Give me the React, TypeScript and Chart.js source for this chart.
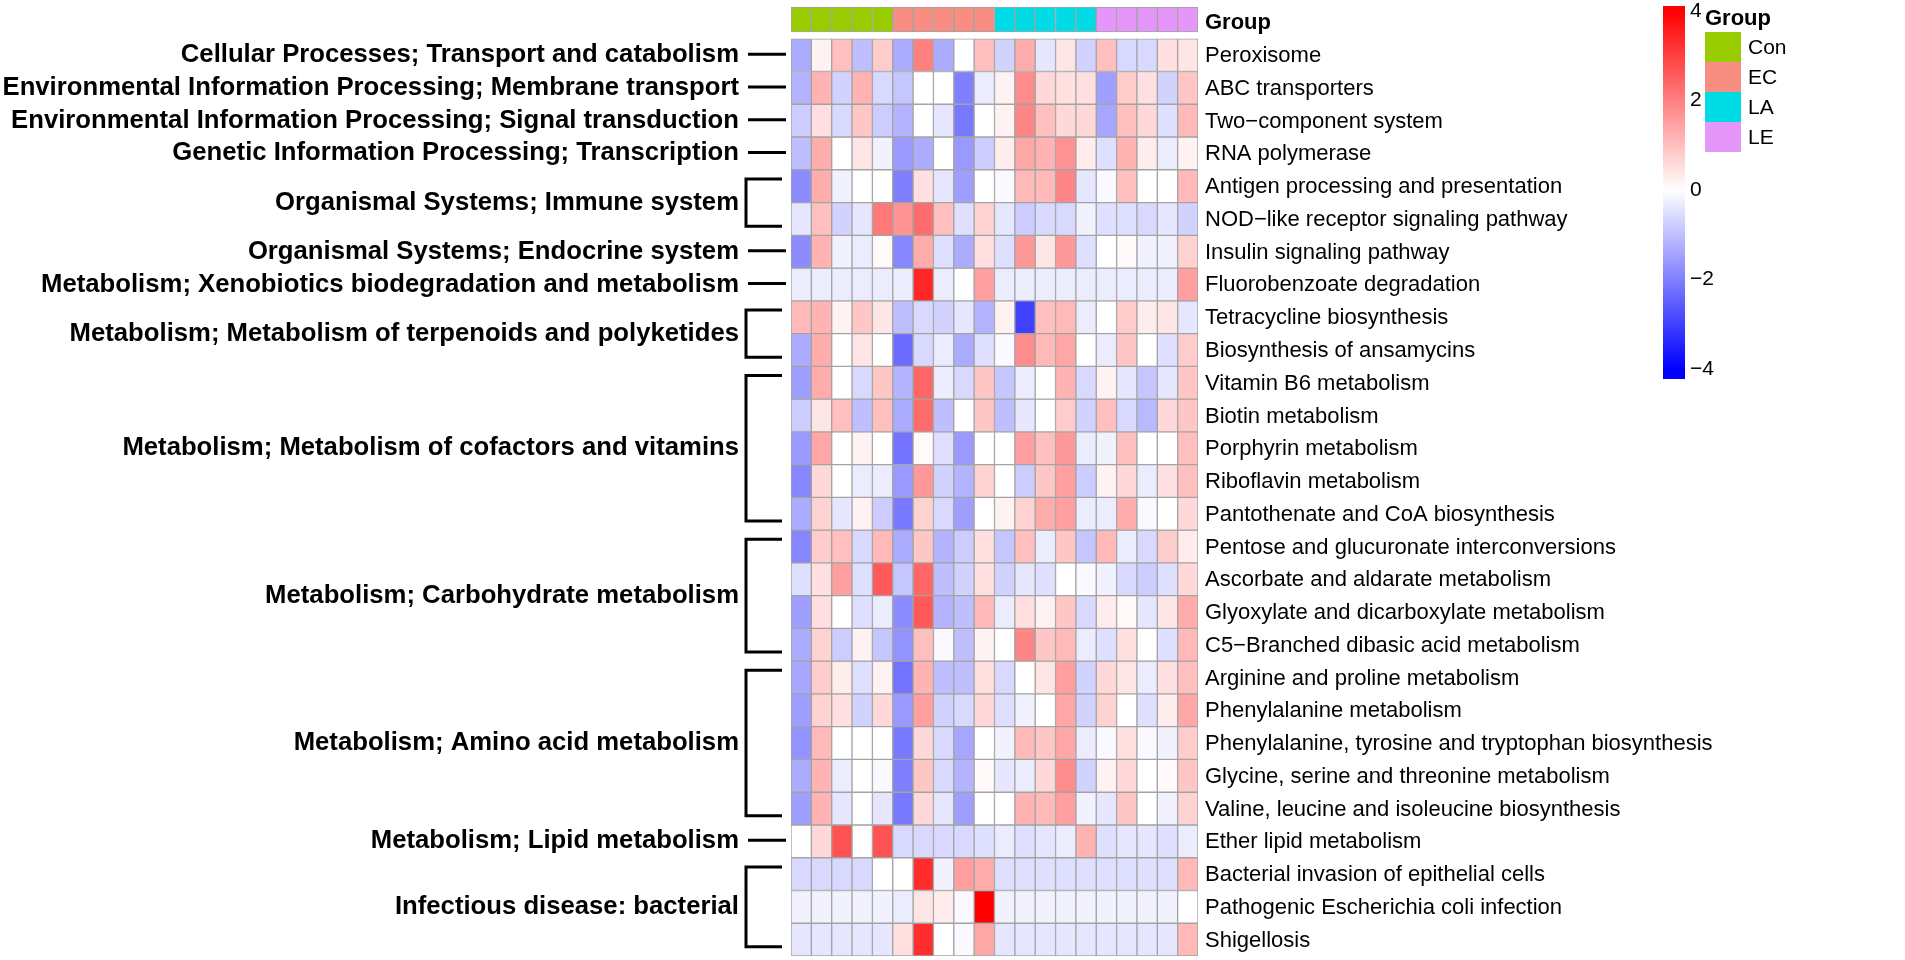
import { useEffect, useRef } from 'react';
import { Chart, registerables } from 'chart.js';

Chart.register(...registerables);

const FONT = "'Liberation Sans', Arial, Helvetica, sans-serif";

const samples = [
  'Con1', 'Con2', 'Con3', 'Con4', 'Con5',
  'EC1', 'EC2', 'EC3', 'EC4', 'EC5',
  'LA1', 'LA2', 'LA3', 'LA4', 'LA5',
  'LE1', 'LE2', 'LE3', 'LE4', 'LE5',
];
const groupNames = ['Con', 'EC', 'LA', 'LE'];
const groupColors = ['#99CC00', '#F88E82', '#00DCE6', '#E497F8'];
const sampleGroup = [0, 0, 0, 0, 0, 1, 1, 1, 1, 1, 2, 2, 2, 2, 2, 3, 3, 3, 3, 3];

const pathways = [
  'Peroxisome',
  'ABC transporters',
  'Two\u2212component system',
  'RNA polymerase',
  'Antigen processing and presentation',
  'NOD\u2212like receptor signaling pathway',
  'Insulin signaling pathway',
  'Fluorobenzoate degradation',
  'Tetracycline biosynthesis',
  'Biosynthesis of ansamycins',
  'Vitamin B6 metabolism',
  'Biotin metabolism',
  'Porphyrin metabolism',
  'Riboflavin metabolism',
  'Pantothenate and CoA biosynthesis',
  'Pentose and glucuronate interconversions',
  'Ascorbate and aldarate metabolism',
  'Glyoxylate and dicarboxylate metabolism',
  'C5\u2212Branched dibasic acid metabolism',
  'Arginine and proline metabolism',
  'Phenylalanine metabolism',
  'Phenylalanine, tyrosine and tryptophan biosynthesis',
  'Glycine, serine and threonine metabolism',
  'Valine, leucine and isoleucine biosynthesis',
  'Ether lipid metabolism',
  'Bacterial invasion of epithelial cells',
  'Pathogenic Escherichia coli infection',
  'Shigellosis',
];

const vPeroxisome = [-1.3, 0.2, 1.0, -1.0, 0.8, -1.3, 2.0, -1.3, 0, 1.0, -0.7, 1.3, -0.4, 0.4, -0.7, 1.0, -0.6, -0.6, 0.5, 0.4];
const vAbc = [-1.2, 1.2, -0.7, 1.2, -0.6, -0.9, 0, 0, -2.0, -0.3, 0.2, 1.8, 0.6, 0.5, 0.5, -1.5, 0.8, 0.5, -0.7, 0.9];
const vTwoComponent = [-0.8, 0.5, -0.6, 0.9, -0.8, -1.2, 0, -0.4, -2.1, 0, 0.2, 1.9, 1.0, 0.6, 0.6, -1.4, 1.0, 0.6, -0.5, 1.1];
const vRnaPol = [-1.0, 1.3, 0, 0.4, -0.2, -1.6, -1.3, 0, -1.6, -0.8, 0.3, 1.4, 1.2, 1.7, 0.3, -0.5, 1.2, 0.3, -0.3, 0.2];
const vAntigen = [-1.8, 1.3, -0.2, 0, 0, -2.0, 0.5, -0.4, -1.5, 0, -0.1, 1.1, 1.1, 1.9, -0.4, -0.1, 1.0, 0, 0, 1.1];
const vNod = [-0.4, 1.0, -0.7, -0.4, 2.1, 1.7, 2.3, 1.0, -0.5, 0.7, -0.4, -0.8, -0.6, -0.6, -0.2, -0.5, -0.5, -0.6, -0.4, -0.7];
const vInsulin = [-1.8, 1.2, -0.2, -0.3, 0.1, -1.9, 1.3, -0.5, -1.3, 0.5, -0.5, 1.6, 0.4, 1.6, -0.5, 0, 0.1, -0.2, -0.2, 0.7];
const vFluoro = [-0.3, -0.3, -0.3, -0.3, -0.3, -0.3, 3.4, -0.3, 0, 1.5, -0.3, -0.3, -0.3, -0.3, -0.3, -0.3, -0.3, -0.3, -0.3, 1.5];
const vTetracycline = [1.1, 1.2, 0.2, 0.9, 0.4, -1.0, -0.6, -0.7, -0.4, -1.2, 0.2, -3.0, 1.0, 1.1, -0.3, 0, 0.8, 0.3, 0.4, -0.4];
const vAnsamycins = [-1.3, 1.3, 0, 0.4, 0, -2.3, -0.6, -0.3, -1.3, -0.5, -0.1, 1.8, 1.1, 1.4, 0, -0.3, 0.9, 0, -0.5, 0.8];
const vVitB6 = [-1.5, 1.3, 0, -0.6, 0.9, -1.2, 2.4, -0.3, -0.6, 0.9, -0.9, -0.3, 0, 1.2, -0.6, 0.2, -0.4, -0.9, -0.4, 0.9];
const vBiotin = [-0.8, 0.4, 1.0, -1.0, 1.0, -1.3, 2.3, -1.0, 0, 0.9, -1.0, -0.4, 0, 0.8, -0.7, 1.0, -0.6, -1.1, 0.6, 0.9];
const vPorphyrin = [-1.6, 1.4, 0, 0.2, 0, -2.2, 0.1, -0.5, -1.6, 0, 0, 1.5, 1.0, 1.6, -0.3, -0.2, 1.0, 0, 0, 1.0];
const vRiboflavin = [-1.9, 0.6, 0, -0.3, -0.3, -1.6, 1.6, -0.7, -1.2, 0.7, 0, -0.8, 0.9, 1.5, -0.8, 0.2, 0.6, -0.3, 0.5, 1.0];
const vPantothenate = [-1.3, 0.7, -0.4, 0.2, -0.8, -2.1, 0.7, -0.6, -1.5, 0, 0.2, 0.7, 1.3, 1.5, -0.3, -0.3, 1.3, -0.1, 0, 0.6];
const vPentose = [-1.9, 0.8, 1.0, -0.6, 1.1, -1.3, 0.9, -1.2, -0.8, 0.5, -0.9, 1.0, -0.3, 0.9, -0.9, 1.1, -0.3, -0.6, 0.8, 0.3];
const vAscorbate = [-0.5, 0.5, 1.5, -0.5, 2.6, -0.9, 2.4, -1.0, -0.7, 0.5, -0.7, -0.4, -0.5, 0, -0.1, -0.2, -0.6, -0.8, -0.5, 0.6];
const vGlyoxylate = [-1.5, 0.5, 0, -0.5, -0.3, -1.8, 2.6, -1.2, -1.0, 1.1, -0.3, 0.5, 0.2, 0.9, -0.6, 0.3, 0.1, -0.4, 0.4, 1.3];
const vC5Branched = [-1.3, 0.7, -0.8, 0.2, -0.9, -1.7, 1.0, -0.1, -1.0, 0.2, 0, 1.9, 0.9, 1.1, -0.3, -0.5, 0.5, 0, -0.5, 1.1];
const vArginine = [-1.4, 0.8, 0.3, -0.5, 0.2, -2.2, 1.2, -1.0, -1.0, 0.5, -0.6, 0, 0.4, 1.5, -0.7, 0.6, 0.4, -0.3, 0.5, 1.0];
const vPhenylalanine = [-1.5, 0.7, 0.5, -0.7, 0.6, -1.6, 1.5, -0.7, -0.6, 0.6, -0.5, -0.2, 0, 1.4, -0.7, 0.7, 0, -0.5, 0.3, 1.4];
const vPheTyrTrp = [-1.7, 1.1, 0, 0, 0, -2.1, 0.6, -0.6, -1.4, 0, -0.2, 1.1, 0.9, 1.4, -0.3, -0.1, 0.5, -0.1, -0.2, 0.8];
const vGlycine = [-1.3, 1.2, -0.3, 0, -0.1, -2.0, 0.9, -0.6, -1.2, 0.1, -0.4, -0.3, 0.6, 1.8, -0.7, 0.2, 0.6, 0, 0.1, 0.9];
const vValine = [-1.5, 1.2, -0.4, 0, -0.4, -2.1, 0.6, -0.4, -1.5, 0, 0, 1.2, 1.1, 1.5, -0.2, -0.4, 0.9, 0, -0.2, 0.7];
const vEtherLipid = [0, 0.6, 2.7, 0, 2.7, -0.6, -0.6, -0.6, -0.6, -0.5, -0.3, -0.5, -0.4, -0.3, 1.2, -0.5, -0.4, -0.4, -0.5, -0.3];
const vBactInvasion = [-0.6, -0.6, -0.6, -0.6, 0, 0, 3.3, -0.2, 1.5, 1.3, -0.5, -0.5, -0.5, -0.5, -0.5, -0.5, -0.5, -0.5, -0.5, 1.1];
const vEcoli = [-0.2, -0.2, -0.2, -0.2, -0.2, -0.3, 0.4, 0.3, -0.1, 4.0, -0.2, -0.2, -0.2, -0.2, -0.2, -0.2, -0.2, -0.2, -0.2, 0];
const vShigellosis = [-0.4, -0.4, -0.4, -0.4, -0.4, 0.5, 3.3, 0, -0.1, 1.4, -0.4, -0.4, -0.4, -0.4, -0.4, -0.4, -0.4, -0.4, -0.4, 1.1];

const matrix = [
  vPeroxisome, vAbc, vTwoComponent, vRnaPol, vAntigen, vNod, vInsulin, vFluoro,
  vTetracycline, vAnsamycins, vVitB6, vBiotin, vPorphyrin, vRiboflavin, vPantothenate,
  vPentose, vAscorbate, vGlyoxylate, vC5Branched, vArginine, vPhenylalanine, vPheTyrTrp,
  vGlycine, vValine, vEtherLipid, vBactInvasion, vEcoli, vShigellosis,
];

const classLabels = [
  'Cellular Processes; Transport and catabolism',
  'Environmental Information Processing; Membrane transport',
  'Environmental Information Processing; Signal transduction',
  'Genetic Information Processing; Transcription',
  'Organismal Systems; Immune system',
  'Organismal Systems; Endocrine system',
  'Metabolism; Xenobiotics biodegradation and metabolism',
  'Metabolism; Metabolism of terpenoids and polyketides',
  'Metabolism; Metabolism of cofactors and vitamins',
  'Metabolism; Carbohydrate metabolism',
  'Metabolism; Amino acid metabolism',
  'Metabolism; Lipid metabolism',
  'Infectious disease: bacterial',
];
const classFirstRow = [0, 1, 2, 3, 4, 6, 7, 8, 10, 15, 19, 24, 25];
const classLastRow = [0, 1, 2, 3, 5, 6, 7, 9, 14, 18, 23, 24, 27];

const legendTicks = [4, 2, 0, -2, -4];
const colorMax = 4;

function valueToColor(v: number): string {
  const t = Math.max(-1, Math.min(1, v / colorMax));
  if (t >= 0) {
    const c = Math.round(255 * (1 - t));
    return `rgb(255,${c},${c})`;
  }
  const c = Math.round(255 * (1 + t));
  return `rgb(${c},${c},255)`;
}

const fmt = (n: number) => (n < 0 ? '\u2212' + Math.abs(n) : String(n));

const annotPlugin = {
  id: 'annotations',
  afterDraw(chart: any) {
    const { ctx, chartArea, scales } = chart;
    const ys = scales.y;
    const left = chartArea.left;
    ctx.save();
    ctx.fillStyle = '#000';
    ctx.strokeStyle = '#000';
    ctx.lineWidth = 3;
    ctx.lineJoin = 'miter';
    ctx.font = `bold 25.7px ${FONT}`;
    ctx.textAlign = 'right';
    ctx.textBaseline = 'middle';
    classLabels.forEach((label, i) => {
      const a = classFirstRow[i];
      const b = classLastRow[i];
      const yMid = ys.getPixelForValue((a + b + 1) / 2) - 1;
      ctx.fillText(label, left - 52, yMid + 1);
      ctx.beginPath();
      if (a === b) {
        ctx.moveTo(left - 43, yMid);
        ctx.lineTo(left - 5, yMid);
      } else {
        const yt = ys.getPixelForValue(a + 0.28);
        const yb = ys.getPixelForValue(b + 0.72);
        ctx.moveTo(left - 9, yt);
        ctx.lineTo(left - 45, yt);
        ctx.lineTo(left - 45, yb);
        ctx.lineTo(left - 9, yb);
      }
      ctx.stroke();
    });

    // colour key
    const cbX = 1663;
    const cbW = 22;
    const vToY = (v: number) => 190 - v * 44.8;
    const top = 6;
    const bottom = 379;
    const grad = ctx.createLinearGradient(0, vToY(colorMax), 0, vToY(-colorMax));
    grad.addColorStop(0, valueToColor(4));
    grad.addColorStop(0.5, valueToColor(0));
    grad.addColorStop(1, valueToColor(-4));
    ctx.fillStyle = grad;
    ctx.fillRect(cbX, top, cbW, bottom - top);
    ctx.fillStyle = '#000';
    ctx.font = `21px ${FONT}`;
    ctx.textAlign = 'left';
    legendTicks.forEach((t) => {
      ctx.fillText(fmt(t), cbX + cbW + 5, vToY(t));
    });

    // group key
    const gx = cbX + cbW + 20;
    ctx.font = `bold 22px ${FONT}`;
    ctx.fillText('Group', gx, 19);
    const boxH = 30;
    const boxW = 36;
    groupNames.forEach((g, i) => {
      const by = 32 + i * boxH;
      ctx.fillStyle = groupColors[i];
      ctx.fillRect(gx, by, boxW, boxH);
      ctx.fillStyle = '#000';
      ctx.font = `21px ${FONT}`;
      ctx.fillText(g, gx + boxW + 7, by + boxH / 2 + 1);
    });
    ctx.restore();
  },
};

export default function App() {
  const canvasRef = useRef<HTMLCanvasElement | null>(null);

  useEffect(() => {
    if (!canvasRef.current) return;
    const groupDataset = {
      label: 'Group',
      data: samples.map(() => [-0.97, -0.21]),
      backgroundColor: samples.map((_, i) => groupColors[sampleGroup[i]]),
      borderColor: '#a3a3a3',
      borderWidth: 1,
      borderSkipped: false,
      grouped: false,
      barPercentage: 1,
      categoryPercentage: 1,
    };
    const rowDatasets = pathways.map((name, r) => ({
      label: name,
      data: samples.map(() => [r, r + 1]),
      backgroundColor: matrix[r].map(valueToColor),
      borderColor: '#a3a3a3',
      borderWidth: 1,
      borderSkipped: false,
      grouped: false,
      barPercentage: 1,
      categoryPercentage: 1,
    }));

    const chart = new Chart(canvasRef.current, {
      type: 'bar',
      data: { labels: samples, datasets: [groupDataset, ...rowDatasets] as any },
      options: {
        animation: false,
        responsive: false,
        events: [],
        layout: { padding: { left: 791, right: 187, top: 6, bottom: 4 } },
        plugins: { legend: { display: false }, tooltip: { enabled: false } },
        scales: {
          x: { type: 'category', display: false },
          y: {
            type: 'linear',
            reverse: true,
            min: -1,
            max: 28,
            position: 'right',
            grid: { display: false, drawTicks: false },
            border: { display: false },
            afterBuildTicks: (scale: any) => {
              scale.ticks = [{ value: -0.49 }, ...pathways.map((_, i) => ({ value: i + 0.53 }))];
            },
            afterFit: (scale: any) => {
              scale.width = 520;
              scale.paddingTop = 0;
              scale.paddingBottom = 0;
            },
            ticks: {
              autoSkip: false,
              padding: 7,
              color: '#000',
              font: (c: any) =>
                c.index === 0
                  ? { family: FONT, size: 22, weight: 'bold' }
                  : { family: FONT, size: 22 },
              callback: (value: any) => {
                const i = Math.floor(Number(value));
                return i >= 0 ? pathways[i] : 'Group';
              },
            },
          },
        },
      } as any,
      plugins: [annotPlugin],
    });
    return () => chart.destroy();
  }, []);

  return (
    <div style={{ position: 'absolute', left: 0, top: 0, width: 1905, height: 960, background: '#fff' }}>
      <canvas ref={canvasRef} width={1905} height={960} style={{ display: 'block' }} />
    </div>
  );
}
